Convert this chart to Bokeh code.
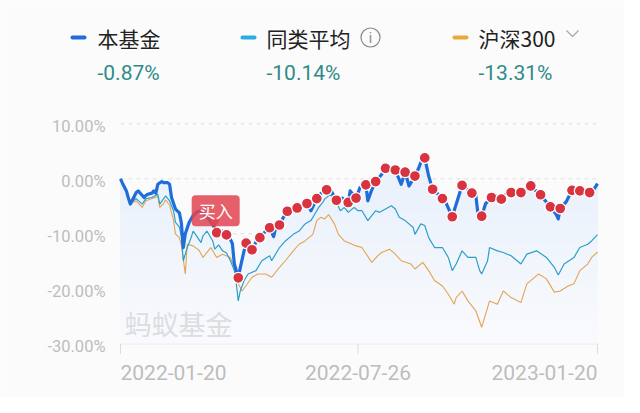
from bokeh.plotting import figure
from bokeh.models import Range1d, Label
from bokeh.embed import file_html
from bokeh.resources import INLINE
from bokeh.core.properties import value

# ---------------- data ----------------
series_names = ["本基金", "同类平均", "沪深300"]
series_returns = ["-0.87%", "-10.14%", "-13.31%"]
date_ticks = [0, 121, 243]
date_labels = ["2022-01-20", "2022-07-26", "2023-01-20"]
y_ticks = [10, 0, -10, -20, -30]
y_labels = ["10.00%", "0.00%", "-10.00%", "-20.00%", "-30.00%"]

fund_days = [0, 1, 3, 4, 5, 7, 8, 9, 11, 12, 13, 14, 16, 17, 18, 19, 21, 22, 24, 25,
             26, 28, 30, 31, 32, 33, 35, 37, 39, 41, 43, 45, 47, 49, 52, 54, 56, 57, 58, 60,
             61, 63, 64, 67, 69, 71, 74, 76, 78, 79, 81, 83, 85, 88, 90, 93, 95, 97, 100, 102,
             105, 107, 110, 113, 116, 117, 120, 122, 125, 126, 128, 130, 133, 135, 137, 140, 143, 145, 147, 150,
             152, 153, 155, 157, 159, 161, 164, 166, 169, 172, 174, 177, 179, 181, 182, 184, 186, 189, 191, 194,
             197, 199, 202, 204, 207, 209, 211, 214, 216, 219, 222, 223, 224, 227, 230, 232, 234, 236, 239, 241,
             243]
fund_vals = [0.0, -0.8, -2.2, -3.5, -4.6, -3.2, -2.5, -2.2, -3.0, -3.4, -3.0, -2.8, -2.6, -2.2, -2.6, -1.0, -0.5, -0.7, -0.7, -1.0,
             -3.4, -5.5, -6.2, -8.0, -12.5, -10.0, -7.9, -6.7, -6.0, -5.8, -6.5, -7.3, -8.3, -9.8, -9.5, -10.2, -11.0, -11.8, -15.5, -18.0,
             -16.2, -13.0, -11.7, -12.9, -11.5, -10.7, -9.5, -8.9, -10.5, -9.0, -8.4, -7.0, -5.9, -5.8, -5.3, -4.8, -4.5, -5.8, -3.6, -2.7,
             -2.0, -2.0, -3.9, -3.5, -4.3, -2.2, -3.5, -1.6, -1.1, -4.0, -2.0, -0.5, 0.8, 1.9, 1.8, 1.6, -1.0, 1.2, -1.3, 0.5,
             2.0, 3.0, 3.8, 0.5, -1.9, -2.5, -3.6, -4.5, -6.9, -3.5, -1.2, -2.0, -2.6, -3.0, -6.0, -6.8, -4.5, -3.4, -3.0, -3.7,
             -2.6, -2.5, -2.2, -2.5, -1.8, -1.3, -2.0, -2.9, -3.8, -5.1, -6.5, -7.3, -5.4, -4.2, -2.1, -2.0, -2.2, -2.8, -2.5, -2.0,
             -0.87]

buy_days = [49, 54, 60, 64, 67, 71, 76, 81, 85, 90, 95, 100, 105, 110, 116, 120, 125, 130, 135, 140,
            145, 150, 155, 159, 164, 169, 174, 179, 184, 189, 194, 199, 204, 209, 214, 219, 224, 230, 234, 239]

peer_days = [0, 3, 5, 8, 11, 13, 16, 19, 20, 22, 23, 25, 27, 28, 30, 31, 32, 34, 36, 37,
             39, 41, 42, 44, 47, 48, 50, 52, 54, 56, 58, 59, 60, 61, 63, 65, 69, 72, 76, 77,
             81, 84, 88, 91, 94, 97, 99, 101, 103, 104, 107, 110, 112, 114, 116, 119, 121, 123, 126, 130,
             132, 135, 138, 140, 142, 145, 149, 150, 153, 155, 157, 160, 164, 167, 169, 171, 174, 177, 181, 183,
             184, 187, 188, 192, 195, 199, 204, 207, 212, 217, 221, 223, 226, 231, 234, 238, 240, 243]
peer_vals = [0.0, -2.0, -4.4, -3.6, -4.6, -3.6, -3.4, -2.8, -4.6, -3.6, -3.1, -4.0, -5.8, -7.9, -8.8, -10.5, -14.9, -12.5, -10.7, -9.5,
             -10.5, -11.6, -10.4, -9.5, -11.3, -12.8, -12.0, -13.1, -13.5, -14.9, -16.7, -19.1, -22.2, -20.4, -18.5, -17.3, -16.7, -14.9, -14.0, -14.9,
             -12.5, -11.3, -10.1, -9.5, -8.2, -7.6, -6.4, -5.2, -4.3, -3.7, -2.8, -4.3, -5.8, -5.2, -6.1, -5.2, -5.8, -5.8, -7.6, -5.8,
             -6.1, -5.5, -4.9, -5.5, -7.0, -7.6, -8.8, -10.1, -8.2, -8.5, -10.7, -12.5, -12.5, -14.3, -16.7, -15.5, -13.1, -14.3, -14.3, -16.7,
             -17.3, -14.9, -12.5, -13.1, -13.4, -14.0, -15.5, -13.7, -13.1, -14.3, -16.1, -17.5, -15.5, -14.3, -12.5, -11.9, -11.3, -10.14]

hs_days = [0, 3, 5, 8, 11, 13, 16, 19, 20, 22, 23, 25, 27, 28, 30, 31, 33, 34, 37, 40,
           42, 46, 49, 52, 56, 58, 60, 62, 67, 70, 74, 77, 81, 84, 88, 91, 94, 98, 100, 102,
           104, 106, 109, 111, 114, 116, 120, 123, 128, 131, 133, 137, 140, 143, 148, 150, 154, 157, 160, 164,
           167, 170, 171, 174, 177, 181, 184, 188, 192, 195, 199, 204, 207, 213, 217, 221, 224, 228, 231, 234,
           238, 240, 243]
hs_vals = [0.0, -2.2, -4.6, -4.0, -5.2, -4.0, -3.6, -3.2, -5.2, -4.5, -3.8, -4.8, -7.5, -10.0, -10.7, -12.0, -17.3, -11.9, -12.2, -13.0,
           -14.3, -12.5, -14.3, -13.7, -14.3, -16.1, -19.1, -20.4, -17.9, -17.3, -17.3, -17.9, -16.1, -14.9, -13.1, -11.9, -11.3, -10.1, -7.6, -7.0,
           -7.3, -6.5, -8.2, -10.1, -11.3, -11.6, -12.2, -12.5, -15.2, -14.0, -13.4, -12.8, -13.7, -14.9, -15.5, -16.4, -15.2, -16.7, -18.5, -19.5,
           -21.0, -22.8, -21.6, -20.4, -22.2, -24.0, -27.0, -22.2, -22.8, -20.4, -21.6, -22.5, -19.1, -17.3, -18.2, -20.6, -20.4, -19.5, -19.1, -16.7,
           -15.5, -14.3, -13.31]

# ---------------- style / layout ----------------
FUND_C = "#1e6dd8"
PEER_C = "#2c9fc8"
PEER_LEG_C = "#2aaee2"
HS_C = "#e3a452"
HS_LEG_C = "#e9a83a"
DOT_C = "#d8343f"
BG = "#fbfbfc"
CJK = "Noto Sans CJK SC"
NUM = "Roboto"

W, H = 624, 397
# plot area in canvas pixels
PX_L, PX_R = 120, 597
PY_T, PY_B = 123.3, 343.3
X0, X1 = 0, 243
Y0, Y1 = -30, 10


def px2x(px):
    return X0 + (px - PX_L) / (PX_R - PX_L) * (X1 - X0)


def py2y(py):
    return Y1 - (py - PY_T) / (PY_B - PY_T) * (Y1 - Y0)


PYU = (Y1 - Y0) / (PY_B - PY_T)   # data units per pixel (y)

p = figure(width=W, height=H, output_backend="svg", toolbar_location=None,
           x_range=Range1d(px2x(0), px2x(W)), y_range=Range1d(py2y(H), py2y(0)),
           min_border=0, background_fill_color=BG, border_fill_color=BG, outline_line_color=None)
p.axis.visible = False
p.grid.visible = False

# gridlines (dashed) and bottom axis
grid_vals = y_ticks[:-1]
p.segment(x0=[X0] * len(grid_vals), x1=[X1] * len(grid_vals), y0=grid_vals, y1=grid_vals,
          line_color="#dedede", line_width=1, line_dash="4 4")
p.segment(x0=[X0], x1=[X1], y0=[Y0], y1=[Y0], line_color="#dcdcdc", line_width=1)
p.segment(x0=date_ticks, x1=date_ticks, y0=[Y0] * 3, y1=[Y0 - 10 * PYU] * 3,
          line_color="#dcdcdc", line_width=1)

# gradient-like area under fund line (opaque layers, darker towards the top)
top_c = (230, 239, 251)
bot_c = (249, 250, 253)
n_layers = 36
for k in range(n_layers):
    lv = Y0 + k
    t = k / (n_layers - 1)
    c = tuple(int(round(b + (a - b) * t)) for a, b in zip(top_c, bot_c))
    bottom = [min(v, lv) for v in fund_vals]
    p.varea(x=fund_days, y1=bottom, y2=fund_vals, fill_color="#%02x%02x%02x" % c, fill_alpha=1.0)

p.line(hs_days, hs_vals, line_color=HS_C, line_width=1.1)
p.line(peer_days, peer_vals, line_color=PEER_C, line_width=1.2)
p.line(fund_days, fund_vals, line_color=FUND_C, line_width=3.2, line_join="round")

lookup = dict(zip(fund_days, fund_vals))
buy_vals = [lookup[d] for d in buy_days]
p.scatter(buy_days, buy_vals, size=11, fill_color=DOT_C, line_color="white", line_width=1.3)

# y tick labels
p.text(x=[px2x(105)] * len(y_ticks), y=[v - 2.5 * PYU for v in y_ticks], text=y_labels,
       text_align="right", text_baseline="middle", text_color="#bdbdbd",
       text_font=value(NUM), text_font_size="16.5px")

# x tick labels
for t, s, a in zip(date_ticks, date_labels, ["left", "center", "right"]):
    p.text(x=[t], y=[py2y(372)], text=[s], text_align=a, text_baseline="middle",
           text_color="#bdbdbd", text_font=value(NUM), text_font_size="21px")

# buy badge
bx, by = buy_days[0], buy_vals[0]
p.scatter([bx - 1.0], [by + 10 * PYU], marker="inverted_triangle", size=10,
          fill_color="#e04450", fill_alpha=0.85, line_color=None)
p.add_layout(Label(x=bx, y=by, x_offset=-1, y_offset=22, text="买入", text_align="center",
                   text_baseline="middle", text_color="white", text_font=CJK,
                   text_font_size="17px", background_fill_color="#e04450", background_fill_alpha=0.85,
                   border_radius=4, padding=(7, 3)))

# watermark
p.text(x=[px2x(124)], y=[py2y(323)], text=["蚂蚁基金"], text_align="left", text_baseline="middle",
       text_color="#dcdde0", text_font=value(CJK), text_font_size="27px")

# legend
leg_dash_x = [70, 240, 452]
leg_text_x = [97, 266, 478]
leg_colors = [FUND_C, PEER_LEG_C, HS_LEG_C]
p.segment(x0=[px2x(d + 2) for d in leg_dash_x], x1=[px2x(d + 14) for d in leg_dash_x],
          y0=[py2y(37)] * 3, y1=[py2y(37)] * 3, line_color=leg_colors, line_width=4, line_cap="round")
p.text(x=[px2x(t) for t in leg_text_x], y=[py2y(37)] * 3, text=series_names, text_align="left",
       text_baseline="middle", text_color="#222222", text_font=value(CJK), text_font_size="21px")
p.text(x=[px2x(t) for t in leg_text_x], y=[py2y(72)] * 3, text=series_returns, text_align="left",
       text_baseline="middle", text_color="#2f8b87", text_font=value(NUM), text_font_size="21px")

# info icon and chevron
p.scatter([px2x(370)], [py2y(37)], size=19, fill_color=None, line_color="#8a8a8a", line_width=1.2)
p.text(x=[px2x(370)], y=[py2y(37)], text=["i"], text_align="center", text_baseline="middle",
       text_color="#8a8a8a", text_font=value(NUM), text_font_size="14px")
p.line([px2x(566), px2x(572), px2x(578)], [py2y(30), py2y(36), py2y(30)],
       line_color="#a8a8a8", line_width=1.2)

open("out.html", "w").write(file_html(p, INLINE))
